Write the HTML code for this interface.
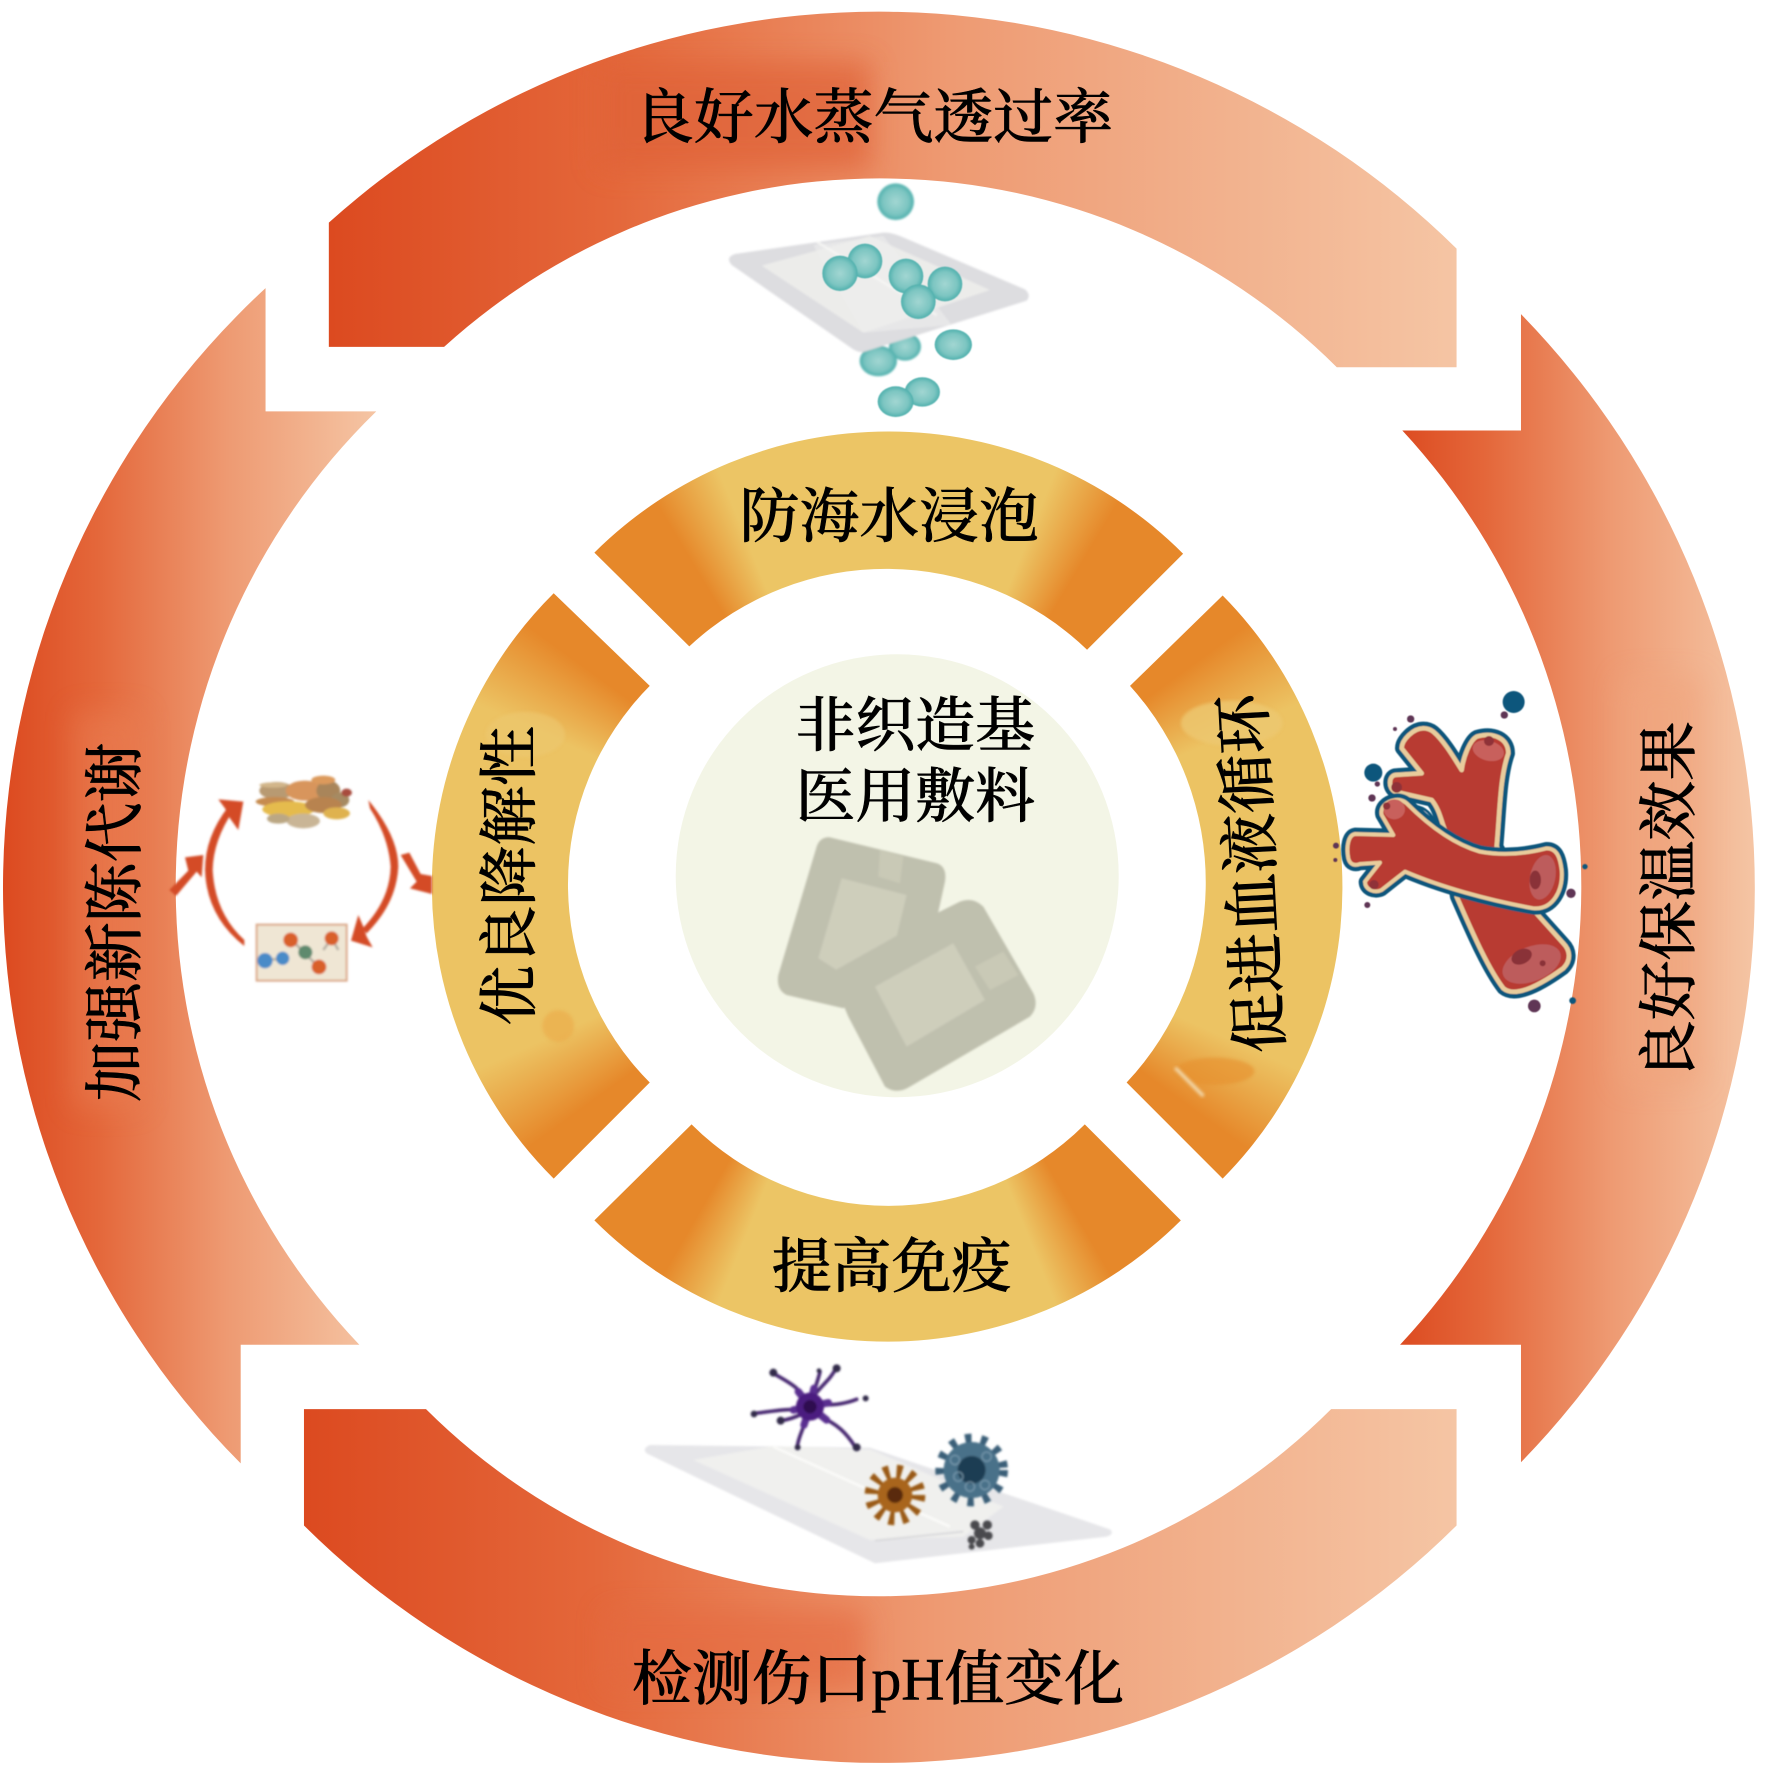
<!DOCTYPE html>
<html><head><meta charset="utf-8"><style>
html,body{margin:0;padding:0;background:#fff}
svg{display:block}
.t{font-family:"Liberation Serif","Noto Serif CJK SC",serif;font-size:53px;font-weight:500;fill:#000;text-anchor:middle;stroke:#000;stroke-width:.5px}
</style></head><body>
<svg xmlns="http://www.w3.org/2000/svg" width="1765" height="1772" viewBox="0 0 1765 1772">
<defs>
<linearGradient id="rt" gradientUnits="userSpaceOnUse" x1="291" y1="0" x2="1289" y2="0"><stop offset="0" stop-color="#dc4a20"/><stop offset=".25" stop-color="#e4673a"/><stop offset=".55" stop-color="#ee9a72"/><stop offset="1" stop-color="#f5c5a4"/></linearGradient>
<linearGradient id="rr" gradientUnits="userSpaceOnUse" x1="1235" y1="0" x2="1553" y2="0"><stop offset="0" stop-color="#dc4a20"/><stop offset=".25" stop-color="#e4673a"/><stop offset=".6" stop-color="#ee9a72"/><stop offset="1" stop-color="#f5c5a4"/></linearGradient>
<linearGradient id="rb" gradientUnits="userSpaceOnUse" x1="269" y1="0" x2="1289" y2="0"><stop offset="0" stop-color="#dc4a20"/><stop offset=".25" stop-color="#e4673a"/><stop offset=".55" stop-color="#ee9a72"/><stop offset="1" stop-color="#f5c5a4"/></linearGradient>
<linearGradient id="rl" gradientUnits="userSpaceOnUse" x1="3" y1="0" x2="333" y2="0"><stop offset="0" stop-color="#dc4a20"/><stop offset=".25" stop-color="#e4673a"/><stop offset=".6" stop-color="#ee9a72"/><stop offset="1" stop-color="#f5c5a4"/></linearGradient>
<radialGradient id="ball"><stop offset="0" stop-color="#a2d6d2"/><stop offset=".7" stop-color="#7cc5c1"/><stop offset="1" stop-color="#4fb0ad"/></radialGradient>
<filter id="b1" x="-10%" y="-10%" width="120%" height="120%"><feGaussianBlur stdDeviation="3"/></filter>
<filter id="b0" x="-10%" y="-10%" width="120%" height="120%"><feGaussianBlur stdDeviation="1.5"/></filter>
<filter id="b2" x="-60%" y="-60%" width="220%" height="220%"><feGaussianBlur stdDeviation="12"/></filter>
<clipPath id="outerclip">
<path d="M291 197A728 728 0 0 1 1289 220V325H1183A573 573 0 0 0 393 307H291Z"/>
<path d="M1346 278A727 727 0 0 1 1346 1294V1190H1239A593 593 0 0 0 1241 381H1346Z"/>
<path d="M269 1247H377A567 567 0 0 0 1178 1247H1289V1350A724 724 0 0 1 269 1350Z"/>
<path d="M235 255V364H333A587 587 0 0 0 318 1190H213V1295A722 722 0 0 1 235 255Z"/>
</clipPath>
<clipPath id="oring">
<path transform="scale(1.13)" d="M526 489A369 369 0 0 1 1047 490L962 575A256 256 0 0 0 610 572Z"/>
<path transform="scale(1.13)" d="M526 1080A367 367 0 0 0 1045 1080L960 995A246 246 0 0 1 612 995Z"/>
<path transform="scale(1.13)" d="M1082 527A367 367 0 0 1 1082 1043L997 958A259 259 0 0 0 1000 607Z"/>
<path transform="scale(1.13)" d="M490 525A365 365 0 0 0 490 1043L575 958A249 249 0 0 1 575 607Z"/>
</clipPath>
<clipPath id="oringu">
<path d="M526 489A369 369 0 0 1 1047 490L962 575A256 256 0 0 0 610 572Z"/>
<path d="M526 1080A367 367 0 0 0 1045 1080L960 995A246 246 0 0 1 612 995Z"/>
<path d="M1082 527A367 367 0 0 1 1082 1043L997 958A259 259 0 0 0 1000 607Z"/>
<path d="M490 525A365 365 0 0 0 490 1043L575 958A249 249 0 0 1 575 607Z"/>
</clipPath>
</defs>

<g transform="scale(1.13)">
<path fill="url(#rt)" d="M291 197A728 728 0 0 1 1289 220V325H1183A573 573 0 0 0 393 307H291Z"/>
<path fill="url(#rr)" d="M1346 278A727 727 0 0 1 1346 1294V1190H1239A593 593 0 0 0 1241 381H1346Z"/>
<path fill="url(#rb)" d="M269 1247H377A567 567 0 0 0 1178 1247H1289V1350A724 724 0 0 1 269 1350Z"/>
<path fill="url(#rl)" d="M235 255V364H333A587 587 0 0 0 318 1190H213V1295A722 722 0 0 1 235 255Z"/>
<g clip-path="url(#outerclip)">
<rect x="530" y="55" width="240" height="95" fill="#df6238" opacity=".7" filter="url(#b2)"/>
<rect x="535" y="1425" width="230" height="70" fill="#e4693f" opacity=".6" filter="url(#b2)"/>
<rect x="1435" y="600" width="70" height="360" fill="#f0a57e" opacity=".6" filter="url(#b2)"/>
<rect x="65" y="630" width="60" height="350" fill="#ea8055" opacity=".5" filter="url(#b2)"/>
</g>
</g>

<foreignObject x="0" y="0" width="1765" height="1772"><div xmlns="http://www.w3.org/1999/xhtml" style="width:1765px;height:1772px;clip-path:url(#oring);background:conic-gradient(from 0deg at 887px 887px,#ecc565 0deg,#ecc565 22deg,#e6882a 31deg,#e6882a 54deg,#ecc363 66deg,#ecc363 114deg,#e6882a 126deg,#e6882a 150deg,#ecc565 158deg,#ecc565 202deg,#e6882a 210deg,#e6882a 234deg,#ecc363 246deg,#ecc363 294deg,#e6882a 306deg,#e6882a 329deg,#ecc565 338deg,#ecc565 360deg)"></div></foreignObject>

<g transform="scale(1.13)">
<g clip-path="url(#oringu)">
<ellipse cx="1090" cy="640" rx="45" ry="20" fill="#edc871" filter="url(#b0)" opacity=".8"/>
<ellipse cx="465" cy="650" rx="35" ry="20" fill="#edc871" filter="url(#b0)" opacity=".6"/>
<ellipse cx="1075" cy="948" rx="35" ry="12" fill="#e6902e" opacity=".6" filter="url(#b0)"/>
<ellipse cx="494" cy="908" rx="14" ry="14" fill="#ebaa4a" filter="url(#b0)" opacity=".6"/>
<path d="M1040 945L1065 970" stroke="#f3dcb0" stroke-width="3" fill="none" filter="url(#b0)"/>
</g>
<circle cx="794" cy="775" r="196" fill="#f3f5e6"/>
</g>

<!-- centre dressings -->
<g transform="translate(670,650) scale(.3333)" filter="url(#b1)">
<path fill="#bfc0ae" d="M480 562L800 640Q832 650 825 695L780 900 520 1075 350 1035Q318 1020 325 975L440 590Q450 560 480 562Z"/>
<path fill="#cecebb" d="M515 685L710 735 680 860 500 960 445 925Z"/>
<path fill="#c9c9b6" d="M630 600L700 620 690 700 625 680Z"/>
<path fill="#bfc0ae" d="M870 755Q910 740 940 770L1090 1030Q1108 1070 1080 1100L720 1310Q680 1335 645 1310L535 1100 480 970 800 790Z"/>
<path fill="#cecebb" d="M615 1010L850 880 945 1050 710 1190Z"/>
<path fill="#c9c9b6" d="M915 950L1000 905 1045 975 960 1020Z"/>
</g>

<!-- water balls & dressing -->
<g transform="translate(650,150) scale(.3333)">
<g filter="url(#b1)">
<circle cx="737" cy="155" r="55" fill="url(#ball)"/>
<ellipse cx="765" cy="590" rx="48" ry="42" fill="url(#ball)"/>
<ellipse cx="685" cy="633" rx="56" ry="46" fill="url(#ball)"/>
<path fill="#dddde0" d="M255 312L700 248Q720 246 750 258L1125 418Q1145 435 1130 452L645 605Q630 610 610 598L245 345Q225 322 255 312Z"/>
<path fill="#ececea" d="M335 347L660 258 1020 420 640 548Z"/>
<path fill="#efefed" d="M490 285L700 258 905 525 640 548Z" opacity=".6"/>
<path d="M500 275L860 495" stroke="#f7f7f5" stroke-width="6" fill="none"/>
</g>
<g filter="url(#b0)">
<circle cx="645" cy="333" r="52" fill="url(#ball)"/>
<circle cx="570" cy="370" r="53" fill="url(#ball)"/>
<circle cx="768" cy="378" r="52" fill="url(#ball)"/>
<circle cx="885" cy="402" r="52" fill="url(#ball)"/>
<circle cx="805" cy="455" r="52" fill="url(#ball)"/>
<ellipse cx="910" cy="584" rx="56" ry="46" fill="url(#ball)"/>
<ellipse cx="817" cy="726" rx="53" ry="44" fill="url(#ball)"/>
<ellipse cx="737" cy="755" rx="54" ry="46" fill="url(#ball)"/>
</g>
</g>

<!-- blood vessel -->
<g transform="translate(1300,660) scale(.3333)" filter="url(#b0)">
<g stroke-linejoin="round">
<path fill="#11567c" stroke="#11567c" stroke-width="40" d="M370 205C340 205 305 240 305 265L365 340 285 345C265 350 265 385 285 395L395 420C420 450 425 490 435 510L470 710C510 800 560 920 610 985 640 1010 700 990 790 925 815 900 810 870 790 850L700 750 590 560C600 450 600 350 625 280 625 235 580 215 530 230 510 240 490 290 485 330 460 290 430 240 400 215 390 207 380 205 370 205Z"/>
<path fill="#b83a33" stroke="#e8cc9c" stroke-width="14" d="M370 205C340 205 305 240 305 265L365 340 285 345C265 350 265 385 285 395L395 420C420 450 425 490 435 510L470 710C510 800 560 920 610 985 640 1010 700 990 790 925 815 900 810 870 790 850L700 750 590 560C600 450 600 350 625 280 625 235 580 215 530 230 510 240 490 290 485 330 460 290 430 240 400 215 390 207 380 205 370 205Z"/>
<path fill="#fff" stroke="#11567c" stroke-width="8" d="M345 438Q390 445 408 495Q370 480 345 438Z"/>
<path fill="#11567c" stroke="#11567c" stroke-width="38" d="M285 420C255 425 240 445 245 465L280 525 165 522C145 525 138 560 145 595 150 615 165 618 180 612L240 608 195 665C195 690 225 700 245 690L315 635C420 680 560 720 700 745 760 750 790 690 785 630 780 590 770 565 740 565 690 578 620 590 540 575 470 555 400 510 320 430 310 420 295 418 285 420Z"/>
<path fill="#b83a33" stroke="#e8cc9c" stroke-width="12" d="M285 420C255 425 240 445 245 465L280 525 165 522C145 525 138 560 145 595 150 615 165 618 180 612L240 608 195 665C195 690 225 700 245 690L315 635C420 680 560 720 700 745 760 750 790 690 785 630 780 590 770 565 740 565 690 578 620 590 540 575 470 555 400 510 320 430 310 420 295 418 285 420Z"/>
</g>
<ellipse cx="728" cy="652" rx="38" ry="68" fill="#bd5c5c" transform="rotate(12 728 652)"/>
<ellipse cx="706" cy="660" rx="17" ry="28" fill="#8a3238"/>
<ellipse cx="695" cy="912" rx="92" ry="52" fill="#bd5c5c" transform="rotate(-22 695 912)"/>
<ellipse cx="665" cy="890" rx="32" ry="22" fill="#8a3238" transform="rotate(-25 665 890)"/>
<circle cx="728" cy="910" r="9" fill="#8a3238"/>
<ellipse cx="565" cy="272" rx="48" ry="30" fill="#c8605c" transform="rotate(15 565 272)"/>
<circle cx="567" cy="243" r="15" fill="#8f3338"/>
<ellipse cx="283" cy="448" rx="32" ry="30" fill="#c8605c"/>
<circle cx="260" cy="438" r="11" fill="#8f3338"/>
<circle cx="290" cy="382" r="16" fill="#8f3338"/>
<circle cx="222" cy="674" r="14" fill="#8f3338"/>
<g fill="#11567c"><circle cx="641" cy="126" r="33"/><circle cx="220" cy="338" r="27"/><circle cx="855" cy="620" r="8"/><circle cx="818" cy="1022" r="10"/></g>
<g fill="#5e3654"><circle cx="613" cy="165" r="11"/><circle cx="332" cy="177" r="11"/><circle cx="285" cy="207" r="6"/><circle cx="232" cy="372" r="8"/><circle cx="216" cy="414" r="11"/><circle cx="108" cy="557" r="9"/><circle cx="106" cy="600" r="6"/><circle cx="202" cy="735" r="9"/><circle cx="813" cy="700" r="14"/><circle cx="703" cy="1038" r="19"/></g>
</g>

<!-- metabolism loop -->
<g transform="translate(150,750) scale(.3333)" filter="url(#b1)">
<path fill="#d44b27" d="M283 588Q170 500 165 360 165 260 235 170L250 182Q190 270 188 360 195 490 283 570Z"/>
<path fill="#d44b27" d="M205 148L280 155 265 240 240 205 225 175Z"/>
<path fill="#d44b27" d="M655 150Q745 260 745 350 740 460 650 550L638 535Q720 450 722 350 715 260 660 175Z"/>
<path fill="#d44b27" d="M625 495L603 572 668 592 650 560 640 530Z"/>
<path fill="#d44b27" d="M58 420L115 362 105 322 160 315 155 382 140 365 78 438Z"/>
<path fill="#d44b27" d="M752 315L778 308 812 372 846 378 846 432 780 415 800 395Z"/>
<rect x="320" y="524" width="270" height="168" fill="#efe6d4" stroke="#dba888" stroke-width="6"/>
<path d="M365 628H395M425 570L505 650M545 565L520 600M545 565L565 600" stroke="#b9b2a6" stroke-width="8" fill="none"/>
<circle cx="345" cy="632" r="23" fill="#4a8bc8"/><circle cx="398" cy="625" r="20" fill="#4a8bc8"/>
<circle cx="422" cy="570" r="22" fill="#d9602c"/><circle cx="466" cy="607" r="21" fill="#5f8a6e"/>
<circle cx="507" cy="651" r="22" fill="#d9602c"/><circle cx="545" cy="565" r="21" fill="#d9602c"/>
<ellipse cx="380" cy="122" rx="52" ry="26" fill="#b89a72"/>
<ellipse cx="370" cy="105" rx="42" ry="8" fill="#d2b68a"/>
<ellipse cx="375" cy="155" rx="58" ry="14" fill="#c68b50"/>
<ellipse cx="465" cy="122" rx="58" ry="30" fill="#d8955c"/>
<ellipse cx="535" cy="122" rx="36" ry="30" fill="#a9855a"/>
<ellipse cx="570" cy="150" rx="28" ry="22" fill="#a68a62"/>
<ellipse cx="590" cy="128" rx="16" ry="12" fill="#a84b3c"/>
<ellipse cx="520" cy="90" rx="36" ry="13" fill="#dc9a5c"/>
<ellipse cx="415" cy="178" rx="78" ry="24" fill="#e5bb4e"/>
<ellipse cx="520" cy="165" rx="55" ry="24" fill="#b88350"/>
<ellipse cx="560" cy="190" rx="40" ry="18" fill="#dfb24f"/>
<ellipse cx="460" cy="213" rx="50" ry="22" fill="#c9b596"/>
<ellipse cx="385" cy="206" rx="34" ry="15" fill="#bba784"/>
</g>

<!-- cells -->
<g transform="translate(630,1350) scale(.3333)">
<g filter="url(#b1)">
<path fill="#e6e6e9" d="M60 285L720 293 1440 538Q1455 552 1430 560L735 640 50 310Q35 295 60 285Z"/>
<path fill="#f0f0ee" d="M190 330L430 288 720 298 1120 470 1000 560 720 570Z"/>
<path d="M430 290L960 530" stroke="#fafaf8" stroke-width="8" fill="none"/>
<path d="M735 572L1000 545" stroke="#d9d9db" stroke-width="6" fill="none"/>
</g>
<g filter="url(#b1)">
<g fill="none" stroke="#4a2a72" stroke-width="11" stroke-linecap="round" stroke-linejoin="round">
<path d="M540 170C510 110 480 100 430 70"/>
<path d="M545 150C555 110 565 90 570 65"/>
<path d="M550 140C580 100 600 90 618 55"/>
<path d="M570 165C620 165 650 160 680 148"/>
<path d="M570 200C620 220 650 250 675 290"/>
<path d="M530 200C520 240 505 260 502 290"/>
<path d="M510 180C470 175 420 185 375 190"/>
<path d="M520 190C490 205 470 210 452 212"/>
</g>
<g fill="none" stroke="#5a2f90" stroke-width="22" stroke-linecap="round"><path d="M540 170L552 115M540 170L490 180M540 170L590 210M540 170L522 225M540 170L595 158M540 170L505 125"/></g>
<circle cx="540" cy="170" r="42" fill="#4b1f80"/><circle cx="540" cy="170" r="20" fill="#2d1150"/>
<g fill="#302a4a"><circle cx="430" cy="68" r="12"/><circle cx="567" cy="62" r="7"/><circle cx="620" cy="55" r="12"/><circle cx="707" cy="145" r="9"/><circle cx="372" cy="192" r="10"/><circle cx="452" cy="212" r="12"/><circle cx="503" cy="292" r="9"/><circle cx="680" cy="292" r="12"/></g>
<circle cx="795" cy="435" r="66" fill="none" stroke="#9a5a14" stroke-width="50" stroke-dasharray="15 20"/>
<circle cx="795" cy="435" r="52" fill="#a9651a"/><circle cx="795" cy="435" r="24" fill="#5a2a10"/>
<circle cx="1025" cy="360" r="90" fill="none" stroke="#3a5f78" stroke-width="38" stroke-dasharray="18 27"/>
<circle cx="1025" cy="360" r="84" fill="#4a7189"/><circle cx="1025" cy="360" r="42" fill="#1e3c52"/>
<g fill="none" stroke="#82a3b6" stroke-width="3"><circle cx="975" cy="330" r="14"/><circle cx="1070" cy="320" r="14"/><circle cx="985" cy="380" r="14"/><circle cx="1065" cy="405" r="14"/><circle cx="1020" cy="410" r="14"/></g>
<g fill="#4a4a4e"><circle cx="1035" cy="525" r="14"/><circle cx="1072" cy="525" r="14"/><circle cx="1050" cy="550" r="18"/><circle cx="1075" cy="557" r="13"/><circle cx="1025" cy="570" r="12"/><circle cx="1050" cy="580" r="13"/><circle cx="1025" cy="590" r="9"/></g>
</g>
</g>

<!-- labels -->
<g transform="scale(1.13)">
<text class="t" x="773" y="122">良好水蒸气透过率</text>
<text class="t" x="787" y="475">防海水浸泡</text>
<text class="t" x="789" y="1139">提高免疫</text>
<text class="t" x="810" y="660">非织造基</text>
<text class="t" x="810" y="723">医用敷料</text>
<text class="t" x="777" y="1504">检测伤口pH值变化</text>
<text class="t" transform="translate(120,816) rotate(-90)">加强新陈代谢</text>
<text class="t" transform="translate(469,775) rotate(-90)">优良降解性</text>
<text class="t" transform="translate(1126,772) rotate(-93)">促进血液循环</text>
<text class="t" transform="translate(1495,797) rotate(-90)">良好保温效果</text>
</g>
</svg>
</body></html>
